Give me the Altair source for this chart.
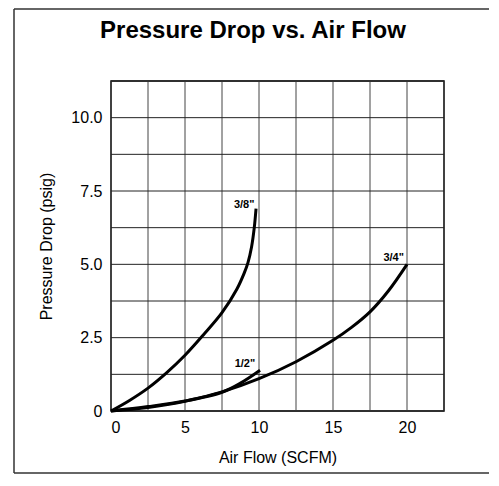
import altair as alt
import pandas as pd

# 3/8" line
x38 = [0, 1.25, 2.5, 3.75, 5, 6.25, 7.5, 8.5, 9.0, 9.25, 9.5, 9.68, 9.8]
y38 = [0, 0.36, 0.78, 1.3, 1.9, 2.6, 3.35, 4.15, 4.7, 5.05, 5.6, 6.25, 6.9]
# 1/2" line
x12 = [0, 2.5, 5, 7.5, 8.75, 10.07]
y12 = [0, 0.15, 0.34, 0.64, 0.95, 1.39]
# 3/4" line
x34 = [0, 2.5, 5, 7.5, 10, 12.5, 15, 16.25, 17.5, 18.75, 20]
y34 = [0, 0.12, 0.33, 0.65, 1.1, 1.68, 2.41, 2.85, 3.38, 4.1, 5.0]

label_text = ['3/8"', '1/2"', '3/4"']
label_x = [9.0, 9.05, 19.1]
label_y = [7.02, 1.59, 5.22]

x_grid = [0, 2.5, 5, 7.5, 10, 12.5, 15, 17.5, 20, 22.5]
y_grid = [0, 1.25, 2.5, 3.75, 5, 6.25, 7.5, 8.75, 10, 11.25]
x_ticks = [0, 5, 10, 15, 20]
y_ticks = [0, 2.5, 5, 7.5, 10]

TITLE = "Pressure Drop vs. Air Flow"
FONT = "Liberation Sans"

rows = []
for name, xs, ys in [('3/8"', x38, y38), ('1/2"', x12, y12), ('3/4"', x34, y34)]:
    for i, (a, b) in enumerate(zip(xs, ys)):
        rows.append({"size": name, "flow": a, "drop": b, "order": i})
df = pd.DataFrame(rows)
labels = pd.DataFrame({"text": label_text, "flow": label_x, "drop": label_y})
gx = pd.DataFrame({"flow": x_grid})
gy = pd.DataFrame({"drop": y_grid})

xscale = alt.Scale(domain=[0, 22.5], nice=False, zero=False)
yscale = alt.Scale(domain=[0, 11.25], nice=False, zero=False)

xaxis = alt.Axis(
    values=x_ticks, format="d",
    title="Air Flow (SCFM)",
    grid=False, ticks=False, domain=False,
    labelPadding=8, titlePadding=14,
)
yaxis = alt.Axis(
    values=y_ticks,
    labelExpr="datum.value == 0 ? '0' : format(datum.value, '.1f')",
    title="Pressure Drop (psig)",
    grid=False, ticks=False, domain=False,
    labelPadding=9, titlePadding=16,
)

grid_x = alt.Chart(gx).mark_rule(color="#444", strokeWidth=1).encode(
    x=alt.X("flow:Q", scale=xscale, axis=xaxis))
grid_y = alt.Chart(gy).mark_rule(color="#222", strokeWidth=1).encode(
    y=alt.Y("drop:Q", scale=yscale, axis=yaxis))

lines = alt.Chart(df).mark_line(
    color="black", strokeWidth=3, interpolate="catmull-rom"
).encode(
    x=alt.X("flow:Q", scale=xscale),
    y=alt.Y("drop:Q", scale=yscale),
    detail="size:N",
    order="order:Q",
)

text = alt.Chart(labels).mark_text(
    font=FONT, fontSize=11, fontWeight="bold", color="black",
    align="center", baseline="middle",
).encode(
    x=alt.X("flow:Q", scale=xscale),
    y=alt.Y("drop:Q", scale=yscale),
    text="text:N",
)

title = alt.Chart().mark_text(
    font=FONT, fontSize=24, fontWeight="bold", color="black",
    align="center", baseline="alphabetic",
).encode(x=alt.value(142), y=alt.value(-43), text=alt.value(TITLE))

# outer frame decoration (pixel positions relative to plot area)
frame_top = alt.Chart().mark_rule(color="#333", strokeWidth=1.5, clip=False).encode(
    x=alt.value(-97), x2=alt.value(378), y=alt.value(-72))
frame_bottom = alt.Chart().mark_rule(color="#333", strokeWidth=1.5, clip=False).encode(
    x=alt.value(-97), x2=alt.value(378), y=alt.value(392))
frame_left = alt.Chart().mark_rule(color="#333", strokeWidth=1.5, clip=False).encode(
    x=alt.value(-97), y=alt.value(-72), y2=alt.value(392))

chart = alt.layer(
    grid_x, grid_y, lines, text, title, frame_top, frame_bottom, frame_left
).properties(
    width=333,
    height=330,
    padding={"left": 5, "top": 0, "right": 0, "bottom": 0},
).configure_view(
    stroke="black", strokeWidth=1.5
).configure_axis(
    labelFont=FONT, titleFont=FONT, labelFontSize=16, titleFontSize=16,
    labelColor="black", titleColor="black", titleFontWeight="normal",
)

chart.save("out.html", embed_options={"renderer": "svg", "actions": False})
